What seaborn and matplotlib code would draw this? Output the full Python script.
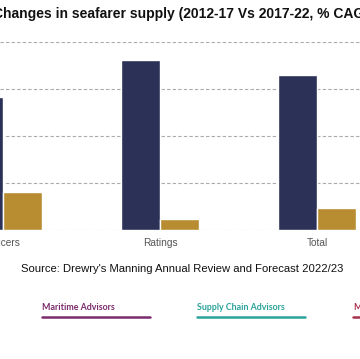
import matplotlib
matplotlib.use("Agg")
import matplotlib.pyplot as plt
import seaborn as sns
import pandas as pd

categories = ["Officers", "Ratings", "Total"]
periods = ["2012-17", "2017-22"]
cagr_2012_17 = [2.83, 3.62, 3.30]
cagr_2017_22 = [0.81, 0.23, 0.47]
colors = ["#2b3157", "#b88d32"]

df = pd.DataFrame({
    "Category": categories * 2,
    "Period": [periods[0]] * 3 + [periods[1]] * 3,
    "CAGR": cagr_2012_17 + cagr_2017_22,
})

sns.set_theme(style="white")
plt.rcParams["font.family"] = ["Liberation Sans", "DejaVu Sans"]

fig = plt.figure(figsize=(3.6, 3.59), dpi=100)
ax = fig.add_axes([0, 1 - 230 / 359, 1, (230 - 42) / 359])

sns.barplot(data=df, x="Category", y="CAGR", hue="Period", order=categories,
            hue_order=periods, palette=colors, width=0.5, gap=0, ax=ax,
            legend=False, saturation=1, errorbar=None)

ax.set_xlim(-3 / 157, 357 / 157)
ax.set_ylim(0, 4)
ax.set_yticks([0, 1, 2, 3, 4])
ax.set_yticklabels([])
ax.tick_params(axis="y", length=0)
ax.tick_params(axis="x", length=0, pad=6, labelsize=7.3, labelcolor="#555555")
ax.set_xlabel("")
ax.set_ylabel("")
for s in ax.spines.values():
    s.set_visible(False)
ax.yaxis.grid(True, linestyle=(0, (3, 2)), color="#aaaaaa", linewidth=0.8)
ax.set_axisbelow(True)

fig.text(186 / 360, 1 - 14 / 359,
         "Changes in seafarer supply (2012-17 Vs 2017-22, % CAGR)",
         ha="center", va="center", fontsize=10.0, fontweight="bold", color="#111111")

fig.text(182.5 / 360, 1 - 269 / 359,
         "Source: Drewry's Manning Annual Review and Forecast 2022/23",
         ha="center", va="center", fontsize=8.07, color="#111111")

footer = [("Maritime Advisors", "#7b2a6e", 42, 150),
          ("Supply Chain Advisors", "#2aa39a", 197, 305),
          ("Maritime", "#a8304f", 353, 461)]
for label, col, x0, x1 in footer:
    fig.text(x0 / 360, 1 - 308 / 359, label, ha="left", va="center",
             fontsize=6.4, fontweight="bold", color=col,
             family=["Lato", "DejaVu Sans"])
    fig.add_artist(plt.Line2D([x0 / 360, x1 / 360], [1 - 317 / 359] * 2,
                              color=col, linewidth=1.8, transform=fig.transFigure))

fig.savefig("out.png", dpi=100)
